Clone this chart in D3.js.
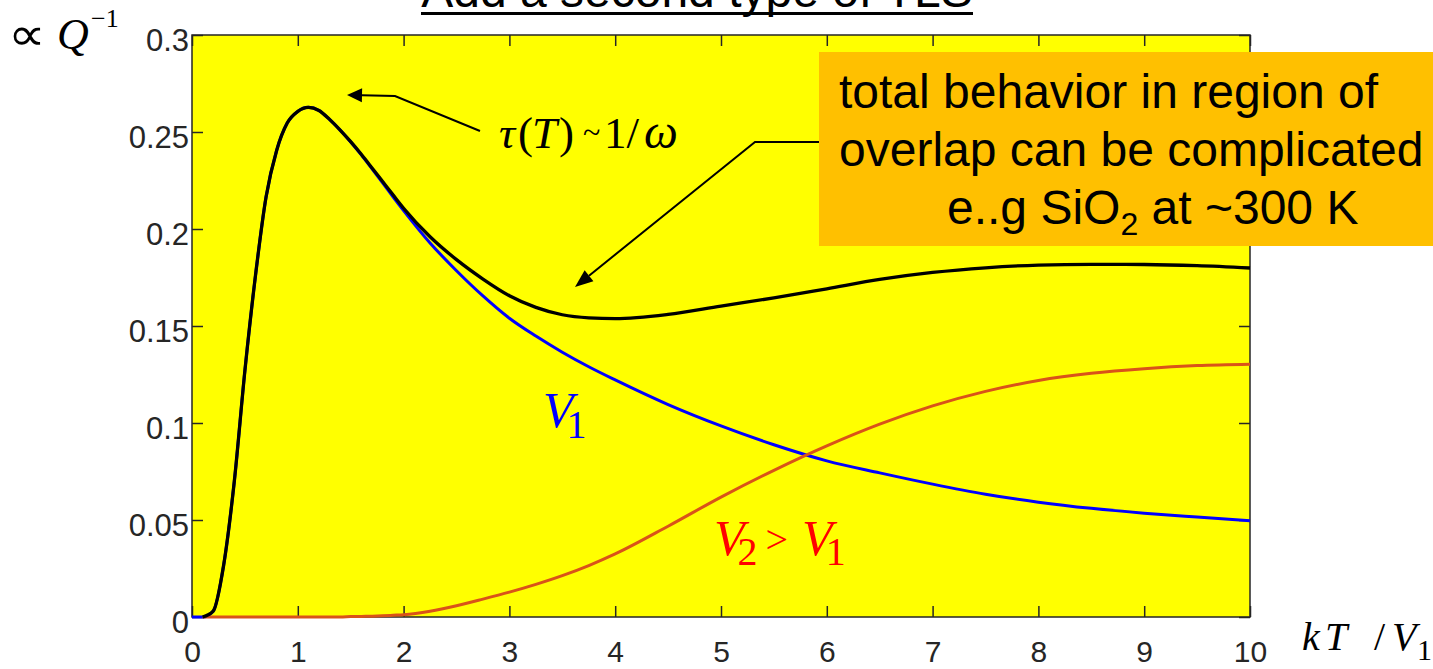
<!DOCTYPE html>
<html>
<head>
<meta charset="utf-8">
<script src="https://cdn.jsdelivr.net/npm/d3@7"></script>
<style>
  body { margin: 0; background: #ffffff; }
  svg { display: block; }
</style>
</head>
<body>
<svg id="chart" width="1433" height="669"></svg>
<script>
// Reduced temperature kT/V1
const kT = [0, 0.1, 0.2, 0.3, 0.4, 0.5, 0.6, 0.7, 0.8, 0.9, 1.0, 1.1, 1.2, 1.3, 1.4, 1.5, 1.6, 1.7, 1.8, 1.9, 2.0,
            2.25, 2.5, 2.75, 3.0, 3.25, 3.5, 3.75, 4.0, 4.5, 5.0, 5.5, 6.0, 6.5, 7.0, 7.5, 8.0, 8.5, 9.0, 9.5, 10];

// Loss from TLS with barrier V1 (blue)
const lossV1 = [0, 0, 0.003, 0.027, 0.070, 0.127, 0.176, 0.2165, 0.2405, 0.2546, 0.2606, 0.2627, 0.2611, 0.2565, 0.2510,
                0.2448, 0.2382, 0.2311, 0.2239, 0.2166, 0.2095,
                0.1928, 0.1785, 0.1655, 0.1540, 0.1448, 0.1365, 0.1290, 0.1222, 0.1095, 0.0985, 0.0888, 0.0805,
                0.0743, 0.0685, 0.0633, 0.0592, 0.0560, 0.0535, 0.0515, 0.0496];

// Loss from TLS with barrier V2 > V1 (orange)
const lossV2 = [null, 0, 0, 0, 0, 0, 0, 0, 0, 0, 0, 0, 0, 0, 0, 0.0002, 0.0003, 0.0004, 0.0006, 0.0009, 0.0012,
                0.0030, 0.0058, 0.0092, 0.0128, 0.0168, 0.0213, 0.0265, 0.0325, 0.0468, 0.0618, 0.0756, 0.0882,
                0.0994, 0.1088, 0.1163, 0.1219, 0.1256, 0.1280, 0.1296, 0.1303];

// Combined loss (black)
const lossTotal = [null, 0, 0.003, 0.027, 0.070, 0.127, 0.176, 0.2165, 0.2405, 0.2546, 0.2606, 0.2627, 0.2611, 0.2565, 0.2510,
                   0.2450, 0.2385, 0.2316, 0.2246, 0.2176, 0.2107,
                   0.1960, 0.1842, 0.1742, 0.1656, 0.1596, 0.1558, 0.1542, 0.1538, 0.1560, 0.1603, 0.1645, 0.1692,
                   0.1740, 0.1776, 0.1800, 0.1814, 0.1818, 0.1817, 0.1811, 0.1799];

const xTicks = [0, 1, 2, 3, 4, 5, 6, 7, 8, 9, 10];
const xTickLabels = ["0", "1", "2", "3", "4", "5", "6", "7", "8", "9", "10"];
const yTicks = [0, 0.05, 0.1, 0.15, 0.2, 0.25, 0.3];
const yTickLabels = ["0", "0.05", "0.1", "0.15", "0.2", "0.25", "0.3"];

const SANS = "'Liberation Sans', Arial, sans-serif";
const SERIF = "'Liberation Serif', 'Times New Roman', serif";
const AXIS_COLOR = "#262626";

const svg = d3.select("#chart");
svg.append("rect").attr("width", 1433).attr("height", 669).attr("fill", "#ffffff");

const x = d3.scaleLinear().domain([0, 10]).range([192, 1250]);
const y = d3.scaleLinear().domain([0, 0.3]).range([617, 35]);

// Axes background
svg.append("rect")
  .attr("x", x(0)).attr("y", y(0.3))
  .attr("width", x(10) - x(0)).attr("height", y(0) - y(0.3))
  .attr("fill", "#ffff00");

// Axes with inward ticks on all four sides
const TICK = 11;
function styleAxis(g, size) {
  g.select(".domain").remove();
  g.selectAll(".tick line").attr("stroke", AXIS_COLOR).attr("stroke-width", 1.5);
  g.selectAll(".tick text").attr("fill", AXIS_COLOR).attr("font-family", SANS).attr("font-size", size);
}

const gBottom = svg.append("g").attr("transform", `translate(0,${y(0)})`)
  .call(d3.axisBottom(x).tickValues(xTicks).tickSizeInner(-TICK).tickSizeOuter(0)
        .tickFormat((d, i) => xTickLabels[i]));
styleAxis(gBottom, 30);
gBottom.selectAll(".tick text").attr("y", 45).attr("dy", 0);

const gTop = svg.append("g").attr("transform", `translate(0,${y(0.3)})`)
  .call(d3.axisTop(x).tickValues(xTicks).tickSizeInner(-TICK).tickSizeOuter(0).tickFormat(""));
styleAxis(gTop, 30);

const gLeft = svg.append("g").attr("transform", `translate(${x(0)},0)`)
  .call(d3.axisLeft(y).tickValues(yTicks).tickSizeInner(-TICK).tickSizeOuter(0)
        .tickFormat((d, i) => yTickLabels[i]));
styleAxis(gLeft, 31);
gLeft.selectAll(".tick text").attr("x", -3).attr("y", 15).attr("dy", 0).attr("text-anchor", "end");

const gRight = svg.append("g").attr("transform", `translate(${x(10)},0)`)
  .call(d3.axisRight(y).tickValues(yTicks).tickSizeInner(-TICK).tickSizeOuter(0).tickFormat(""));
styleAxis(gRight, 30);

// Frame
svg.append("rect")
  .attr("x", x(0)).attr("y", y(0.3))
  .attr("width", x(10) - x(0)).attr("height", y(0) - y(0.3))
  .attr("fill", "none").attr("stroke", AXIS_COLOR).attr("stroke-width", 1.5);

// Curves
const rows = kT.map((t, i) => ({ t, v1: lossV1[i], v2: lossV2[i], tot: lossTotal[i] }));
function lineFor(key) {
  return d3.line()
    .defined(d => d[key] != null)
    .x(d => x(d.t))
    .y(d => y(d[key]))
    .curve(d3.curveMonotoneX);
}
svg.append("path").datum(rows).attr("d", lineFor("v1"))
  .attr("fill", "none").attr("stroke", "#0000ff").attr("stroke-width", 3);
svg.append("path").datum(rows).attr("d", lineFor("v2"))
  .attr("fill", "none").attr("stroke", "#d95319").attr("stroke-width", 3);
svg.append("path").datum(rows).attr("d", lineFor("tot"))
  .attr("fill", "none").attr("stroke", "#000000").attr("stroke-width", 3.3);

// Arrows
function arrow(points, headLen, headHalf) {
  const n = points.length;
  const [tx, ty] = points[n - 1];
  const [px, py] = points[n - 2];
  const dx = tx - px, dy = ty - py, len = Math.hypot(dx, dy);
  const ux = dx / len, uy = dy / len;
  const bx = tx - ux * headLen, by = ty - uy * headLen;
  const shaft = points.slice(0, n - 1).concat([[bx, by]]);
  svg.append("path").attr("d", d3.line()(shaft))
    .attr("fill", "none").attr("stroke", "#000").attr("stroke-width", 2);
  svg.append("path")
    .attr("d", d3.line()([[tx, ty], [bx - uy * headHalf, by + ux * headHalf], [bx + uy * headHalf, by - ux * headHalf]]) + "Z")
    .attr("fill", "#000");
}
arrow([[480, 131], [395, 96], [347, 95]], 15, 7);

// Note box
svg.append("rect").attr("x", 819).attr("y", 52).attr("width", 614).attr("height", 194).attr("fill", "#ffc000");
arrow([[819, 142], [755, 142], [575, 287]], 18, 7);

const note = svg.append("g").attr("font-family", SANS).attr("font-size", 48).attr("fill", "#000");
note.append("text").attr("x", 839).attr("y", 108).text("total behavior in region of");
note.append("text").attr("x", 839).attr("y", 166).text("overlap can be complicated");
const l3 = note.append("text").attr("x", 947).attr("y", 224);
l3.append("tspan").text("e..g SiO");
l3.append("tspan").attr("font-size", 32).attr("dy", 11).text("2");
l3.append("tspan").attr("dy", -11).text(" at ~300 K");

// Curve labels
const tau = svg.append("text").attr("font-family", SERIF).attr("font-size", 45).attr("y", 148);
tau.append("tspan").attr("x", 499).attr("font-style", "italic").text("τ");
tau.append("tspan").attr("x", 518).text("(");
tau.append("tspan").attr("x", 532).attr("font-style", "italic").text("T");
tau.append("tspan").attr("x", 559).text(")");
tau.append("tspan").attr("x", 583).attr("y", 143).attr("font-size", 32).text("~");
tau.append("tspan").attr("x", 604).attr("y", 148).text("1/");
tau.append("tspan").attr("x", 644).attr("font-size", 48).attr("font-style", "italic").text("ω");

const v1 = svg.append("text").attr("font-family", SERIF).attr("fill", "#0000ff")
  .attr("x", 543).attr("y", 427);
v1.append("tspan").attr("font-size", 50).attr("font-style", "italic").text("V");
v1.append("tspan").attr("font-size", 40).attr("dx", -7).attr("dy", 11).text("1");

const v2 = svg.append("text").attr("font-family", SERIF).attr("fill", "#ff0000")
  .attr("x", 714).attr("y", 555);
v2.append("tspan").attr("font-size", 50).attr("font-style", "italic").text("V");
v2.append("tspan").attr("font-size", 40).attr("dx", -7).attr("dy", 10).text("2");
v2.append("tspan").attr("font-size", 40).attr("dx", 8).attr("dy", -12).text(">");
v2.append("tspan").attr("font-size", 50).attr("dx", 14).attr("dy", 2).attr("font-style", "italic").text("V");
v2.append("tspan").attr("font-size", 40).attr("dx", -7).attr("dy", 10).text("1");

// Axis titles
svg.append("text")
  .attr("transform", "translate(8,50) scale(1.55,1.35)")
  .attr("font-family", "'DejaVu Sans', sans-serif").attr("font-size", 34).attr("font-weight", 300)
  .attr("fill", "#000")
  .text("∝");
const yt = svg.append("text").attr("fill", "#000");
yt.append("tspan").attr("x", 57).attr("y", 49).attr("font-family", SERIF).attr("font-size", 44).attr("font-style", "italic").text("Q");
yt.append("tspan").attr("x", 91).attr("y", 27).attr("font-family", SERIF).attr("font-size", 26).text("−1");

const xt = svg.append("text").attr("font-family", SERIF).attr("fill", "#000").attr("font-size", 40);
xt.append("tspan").attr("x", 1302).attr("y", 650).attr("font-style", "italic").text("k");
xt.append("tspan").attr("x", 1325).attr("y", 650).attr("font-style", "italic").text("T");
xt.append("tspan").attr("x", 1374).attr("y", 650).text("/");
xt.append("tspan").attr("x", 1392).attr("y", 650).attr("font-style", "italic").text("V");
xt.append("tspan").attr("x", 1417).attr("y", 660).attr("font-size", 30).text("1");

// Slide heading (partly above the visible area)
svg.append("text").attr("x", 697).attr("y", 7).attr("text-anchor", "middle")
  .attr("font-family", SANS).attr("font-size", 48).attr("fill", "#000")
  .text("Add a second type of TLS");
svg.append("line").attr("x1", 421).attr("x2", 973).attr("y1", 13.5).attr("y2", 13.5)
  .attr("stroke", "#000").attr("stroke-width", 3);
</script>
</body>
</html>
